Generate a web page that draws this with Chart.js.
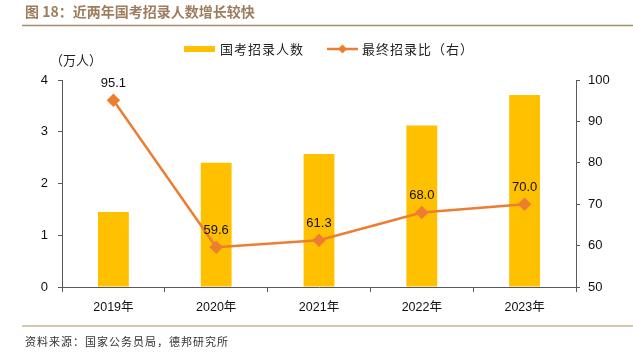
<!DOCTYPE html>
<html>
<head>
<meta charset="utf-8">
<script src="https://cdn.jsdelivr.net/npm/chart.js@4"></script>
<style>
  html, body { margin: 0; padding: 0; background: #fff; }
  #wrap { width: 633px; height: 354px; position: relative; }
</style>
</head>
<body>
<div id="wrap"><canvas id="chart" width="633" height="354"></canvas></div>
<script>
// data
const years = ["2019年", "2020年", "2021年", "2022年", "2023年"];
const hires = [1.45, 2.4, 2.57, 3.12, 3.71];      // 国考招录人数 (万人)
const ratio = [95.1, 59.6, 61.3, 68.0, 70.0];    // 最终招录比 (右)

const titleText = "图 18：近两年国考招录人数增长较快";
const sourceText = "资料来源：国家公务员局，德邦研究所";
const barColor = "#FFC000";
const lineColor = "#ED7D31";
const font = '"Liberation Sans", "Noto Sans CJK SC", sans-serif';
const cjk = '"Noto Sans CJK SC", sans-serif';

// title, legend, unit, footer and value labels
const decor = {
  id: "decor",
  afterDatasetsDraw(chart) {
    const ctx = chart.ctx;
    ctx.save();
    // value labels above the line points
    let meta = chart.getDatasetMeta(1);
    ctx.font = "13px " + font;
    ctx.fillStyle = "#111";
    ctx.textAlign = "center";
    ctx.textBaseline = "middle";
    meta.data.forEach((pt, i) => {
      ctx.fillText(ratio[i].toFixed(1), pt.x, pt.y - 17);
    });
    ctx.restore();
  },
  afterDraw(chart) {
    const ctx = chart.ctx;
    ctx.save();
    // title
    ctx.font = "bold 14px " + cjk;
    ctx.fillStyle = "#9E7D5E";
    ctx.textBaseline = "middle";
    ctx.textAlign = "left";
    ctx.fillText(titleText, 25, 12);
    ctx.strokeStyle = "#A98B6B";
    ctx.lineWidth = 1.5;
    ctx.beginPath();
    ctx.moveTo(22, 25.5);
    ctx.lineTo(633, 25.5);
    ctx.stroke();
    // footer
    ctx.lineWidth = 1.2;
    ctx.beginPath();
    ctx.moveTo(22, 326);
    ctx.lineTo(633, 326);
    ctx.stroke();
    ctx.letterSpacing = "1px";
    ctx.font = "11px " + cjk;
    ctx.fillStyle = "#333";
    ctx.fillText(sourceText, 25, 342);

    // unit
    ctx.letterSpacing = "0px";
    ctx.font = "13px " + cjk;
    ctx.fillStyle = "#222";
    ctx.fillText("（万人）", 50, 60);

    // legend
    ctx.letterSpacing = "1px";
    ctx.fillStyle = barColor;
    ctx.fillRect(184, 46, 31, 6);
    ctx.fillStyle = "#222";
    ctx.fillText("国考招录人数", 220, 49);
    ctx.strokeStyle = lineColor;
    ctx.lineWidth = 2.5;
    ctx.beginPath();
    ctx.moveTo(327, 49);
    ctx.lineTo(358, 49);
    ctx.stroke();
    ctx.fillStyle = lineColor;
    ctx.beginPath();
    ctx.moveTo(342.5, 44.5);
    ctx.lineTo(347, 49);
    ctx.lineTo(342.5, 53.5);
    ctx.lineTo(338, 49);
    ctx.closePath();
    ctx.fill();
    ctx.fillStyle = "#222";
    ctx.fillText("最终招录比（右）", 362, 49);
    ctx.restore();
  }
};

const config = {
  type: "bar",
  data: {
    labels: years,
    datasets: [
      {
        label: "国考招录人数",
        data: hires,
        backgroundColor: barColor,
        categoryPercentage: 1,
        barPercentage: 0.3,
        yAxisID: "y",
        order: 2,
      },
      {
        type: "line",
        label: "最终招录比（右）",
        data: ratio,
        borderColor: lineColor,
        backgroundColor: lineColor,
        borderWidth: 2.5,
        pointStyle: "rectRot",
        pointRadius: 5,
        pointHoverRadius: 5,
        tension: 0,
        yAxisID: "y1",
        order: 1,
      },
    ],
  },
  options: {
    responsive: false,
    animation: false,
    layout: { padding: { top: 80, left: 0, right: 0, bottom: 0 } },
    plugins: {
      legend: { display: false },
      tooltip: { enabled: false },
    },
    scales: {
      x: {
        afterFit: (s) => { s.height = 67; },
        grid: { offset: true, drawOnChartArea: false, tickLength: 5, color: "#595959" },
        border: { color: "#595959" },
        ticks: { font: { size: 12.5, family: font }, color: "#111", padding: 8 },
      },
      y: {
        position: "left",
        min: 0,
        max: 4,
        afterFit: (s) => { s.width = 62; },
        grid: { drawOnChartArea: false, tickLength: 4, color: "#595959" },
        border: { color: "#595959" },
        ticks: { stepSize: 1, font: { size: 13, family: font }, color: "#111", padding: 10 },
      },
      y1: {
        position: "right",
        min: 50,
        max: 100,
        afterFit: (s) => { s.width = 57; },
        grid: { drawOnChartArea: false, tickLength: 4, color: "#595959" },
        border: { color: "#595959" },
        ticks: { stepSize: 10, font: { size: 13, family: font }, color: "#111", padding: 8 },
      },
    },
  },
  plugins: [decor],
};

new Chart(document.getElementById("chart"), config);
</script>
</body>
</html>
